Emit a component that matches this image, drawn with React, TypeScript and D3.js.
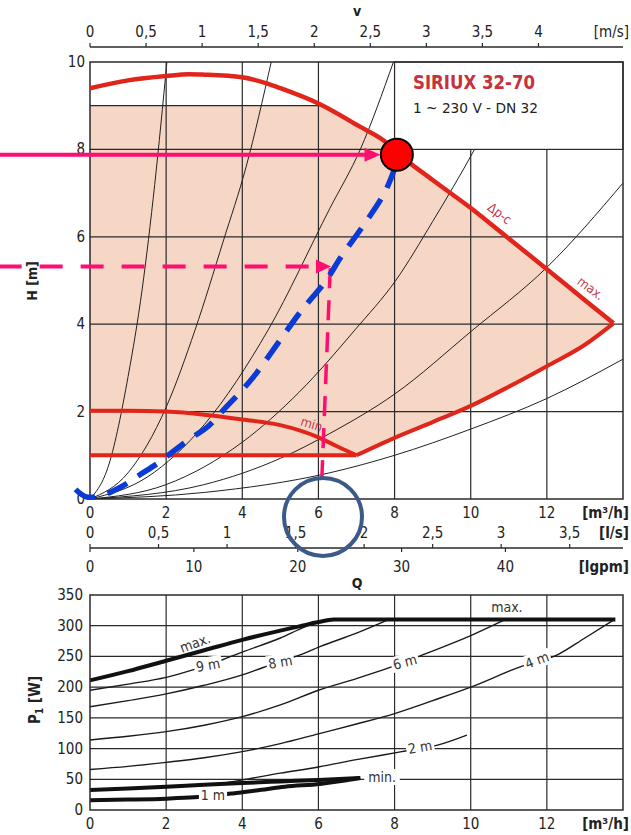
import React from 'react';
import * as d3 from 'd3';

// ---------- axis ticks ----------
const qTicks = [0, 2, 4, 6, 8, 10, 12];
const hTicks = [0, 2, 4, 6, 8, 10];
const vTicks = [0, 0.5, 1, 1.5, 2, 2.5, 3, 3.5, 4];
const lsTicks = [0, 0.5, 1, 1.5, 2, 2.5, 3, 3.5];
const lgpmTicks = [0, 10, 20, 30, 40];
const pTicks = [0, 50, 100, 150, 200, 250, 300, 350];
const hGrid = [2, 4, 6, 8];
const qGridFull = [2, 4, 6, 8];
const qGridLow = [10, 12];
const pGrid = [50, 100, 150, 200, 250, 300];
const qGridP = [2, 4, 6, 8, 10, 12];

// unit conversions (m3/h per unit)
const M3H_PER_MS = 2.945;
const M3H_PER_LS = 3.6;
const M3H_PER_LGPM = 0.2728;

// ---------- H(Q) chart data ----------
const hMaxCurve = [[0, 9.4], [1, 9.58], [2, 9.68], [2.6, 9.72], [3, 9.71], [4, 9.65], [4.64, 9.51], [5, 9.4], [6, 9.05], [7.09, 8.52], [7.75, 8.18], [8.06, 7.93], [9, 7.3], [10, 6.66], [11, 5.96], [12, 5.26], [13, 4.55], [13.75, 4.02]];
const hLowerCurve = [[7.0, 1.0], [8, 1.4], [9, 1.76], [10, 2.13], [11, 2.57], [12, 3.04], [13, 3.53], [13.75, 4.02]];
const hMinCurve = [[0, 2.02], [1, 2.02], [2, 2.0], [3, 1.93], [4, 1.82], [5, 1.69], [6, 1.41], [6.5, 1.2], [7.0, 1.0]];
const hBaseLine = [[0, 1.0], [7.0, 1.0]];
const shadeTopH = 9;

const systemCurves = [
  [[0, 0], [0.5, 0.8], [1, 2.8], [1.37, 4.8], [1.7, 7.2], [2.02, 10]],
  [[0, 0], [1, 0.6], [2, 2.1], [2.76, 3.87], [3.5, 5.9], [4.1, 7.6], [4.76, 10]],
  [[0, 0], [1.5, 0.5], [3, 1.7], [4.68, 3.87], [6.3, 6.65], [7.1, 8.0], [7.97, 10]],
  [[0, 0], [2, 0.33], [4, 1.3], [5.5, 2.45], [6.96, 3.87], [8.03, 5.0], [9, 6.35], [10.1, 8.0], [11, 9.5]],
  [[0, 0], [3, 0.33], [5, 0.93], [6.3, 1.5], [8, 2.4], [10.03, 3.85], [12, 5.3], [14, 7.23]],
  [[0, 0], [3, 0.15], [6.3, 0.6], [8, 1.0], [10, 1.6], [12, 2.3], [14, 3.2]],
];

// annotations (data units)
const dutyPoint = [8.06, 7.88];
const bluePath = [[-0.38, 0.22], [-0.1, 0.05], [0.3, 0.08], [0.8, 0.27], [1.3, 0.55], [1.8, 0.83], [2.2, 1.1], [2.7, 1.42], [3.1, 1.66], [3.55, 2.08], [3.9, 2.4], [4.3, 2.8], [4.9, 3.52], [5.5, 4.25], [6.2, 5.0], [6.6, 5.55], [7.15, 6.22], [7.75, 7.03], [8.06, 7.7]];
const pinkSolid = [[-2.4, 7.88], [7.63, 7.88]];
const pinkDashedH = [[-2.4, 5.32], [6.33, 5.32]];
const pinkDashedV = [[6.31, 5.28], [6.09, 0.48]];
const blueRing = [6.12, -0.41];

// ---------- P1(Q) chart data ----------
const pMax = [[0, 211], [1, 226], [2, 243], [3, 260], [4, 277], [5, 292], [5.5, 299], [6, 306], [6.4, 310], [13.8, 310]];
const p9m = [[0, 195], [1, 205], [2, 216], [2.7, 228], [3.5, 245], [4, 257], [5, 280], [5.65, 298], [6.2, 309]];
const p8m = [[0, 168], [1, 178], [2, 189], [3, 203], [4, 220], [4.55, 232], [5.5, 252], [6.04, 266], [7, 288], [7.84, 310]];
const p6m = [[0, 114], [1, 120], [2, 127.5], [3, 138], [4, 152], [5, 171], [6, 195], [7, 214], [7.92, 233], [8.84, 255], [10, 284], [10.9, 310]];
const p4m = [[0, 66], [1, 71], [2, 77.6], [3, 85], [4, 95], [5, 108], [6, 124], [7, 140], [8, 157], [9, 178], [10, 200], [11.3, 233], [12.26, 252], [13, 280], [13.75, 309]];
const p2m = [[0, 33], [1, 35], [2, 38], [3, 41.5], [3.5, 44], [4, 49], [5, 60], [6, 70], [7, 82], [8.19, 95], [9.15, 106], [9.9, 122]];
const pMin = [[0, 32.6], [1, 35], [2, 38], [3, 41], [4, 44], [5, 46.5], [6, 49], [7.1, 52]];
const p1m = [[0, 16], [1, 17], [2, 18.5], [2.74, 20.6], [3.75, 27], [4.5, 33], [5.12, 38], [6.04, 42.5], [6.6, 47], [7.1, 52]];

const pLabels = [
  { t: 'max.', q: 2.76, p: 272, rot: -20, bg: false },
  { t: '9 m', q: 3.1, p: 236, rot: -10, bg: true },
  { t: '8 m', q: 5.0, p: 241, rot: -10, bg: true },
  { t: '6 m', q: 8.27, p: 241, rot: -15, bg: true },
  { t: '4 m', q: 11.74, p: 244, rot: -20, bg: true },
  { t: '2 m', q: 8.67, p: 102.6, rot: -10, bg: true },
  { t: '1 m', q: 3.23, p: 24.4, rot: 0, bg: true },
  { t: 'min.', q: 7.67, p: 53.7, rot: 0, bg: true },
  { t: 'max.', q: 10.95, p: 330, rot: 0, bg: false },
];

const FONT = "'Liberation Sans Narrow','DejaVu Sans Condensed','Liberation Sans',Arial,sans-serif";
const RED = '#e1251b';
const PINK = '#fe0f6f';
const GRID = '#2a2a2a';
const fmt = (v: number) => String(v).replace('.', ',');

export default function App() {
  const x = d3.scaleLinear().domain([0, 14]).range([90, 623]);
  const yH = d3.scaleLinear().domain([0, 10]).range([499, 62]);
  const yP = d3.scaleLinear().domain([0, 350]).range([810, 595]);
  const xV = d3.scaleLinear().domain([0, 14 / M3H_PER_MS]).range([90, 623]);
  const xLs = d3.scaleLinear().domain([0, 14 / M3H_PER_LS]).range([90, 623]);
  const xG = d3.scaleLinear().domain([0, 14 / M3H_PER_LGPM]).range([90, 623]);

  const linH = d3.line<number[]>().x(d => x(d[0])).y(d => yH(d[1]));
  const smH = d3.line<number[]>().x(d => x(d[0])).y(d => yH(d[1])).curve(d3.curveMonotoneX);
  const smP = d3.line<number[]>().x(d => x(d[0])).y(d => yP(d[1])).curve(d3.curveMonotoneX);
  const blueLine = d3.line<number[]>().x(d => x(d[0])).y(d => yH(d[1])).curve(d3.curveCatmullRom);

  // intersection of max curve with the shade top
  let qCross = 6;
  for (let i = 0; i < hMaxCurve.length - 1; i++) {
    const a = hMaxCurve[i], b = hMaxCurve[i + 1];
    if (a[1] >= shadeTopH && b[1] < shadeTopH) {
      qCross = a[0] + (b[0] - a[0]) * (a[1] - shadeTopH) / (a[1] - b[1]);
      break;
    }
  }
  const fillPts = [
    [0, hBaseLine[0][1]], [0, shadeTopH], [qCross, shadeTopH],
    ...hMaxCurve.filter(p => p[0] > qCross),
    ...hLowerCurve.slice().reverse(),
  ];
  const fillPath = linH(fillPts) + 'Z';

  const arrowHead = (tx: number, ty: number, len: number, hw: number) =>
    `M${tx},${ty}L${tx - len},${ty - hw}L${tx - len},${ty + hw}Z`;

  const sx = x(pinkSolid[1][0]), sy = yH(pinkSolid[1][1]);
  const dx = x(pinkDashedH[1][0]), dy = yH(pinkDashedH[1][1]);

  return (
    <svg width={631} height={835} style={{ position: 'absolute', left: 0, top: 0, background: '#fff' }} fontFamily={FONT}>
      <defs>
        <clipPath id="plotH"><rect x={90} y={62} width={533} height={437} /></clipPath>
      </defs>

      {/* ===== top axis v ===== */}
      <text x={357} y={16} textAnchor="middle" fontSize={14} fontWeight="bold" fill="#222">v</text>
      <line x1={90} x2={623} y1={47} y2={47} stroke={GRID} strokeWidth={1.3} />
      {vTicks.map(v => (
        <g key={'v' + v}>
          <line x1={xV(v)} x2={xV(v)} y1={47} y2={43} stroke={GRID} strokeWidth={1.2} />
          <text x={xV(v)} y={37} textAnchor="middle" fontSize={15} fill="#222">{fmt(v)}</text>
        </g>
      ))}
      <text x={629} y={37} textAnchor="end" fontSize={15} fill="#222">[m/s]</text>

      {/* ===== H(Q) plot ===== */}
      <path d={fillPath} fill="#f6d6c5" stroke="none" />
      {hGrid.map(h => <line key={'hg' + h} x1={90} x2={623} y1={yH(h)} y2={yH(h)} stroke={GRID} strokeWidth={1.2} />)}
      <line x1={90} x2={x(qCross)} y1={yH(shadeTopH)} y2={yH(shadeTopH)} stroke={GRID} strokeWidth={1.2} />
      {qGridFull.map(q => <line key={'qg' + q} x1={x(q)} x2={x(q)} y1={yH(0)} y2={yH(10)} stroke={GRID} strokeWidth={1.2} />)}
      {qGridLow.map(q => <line key={'ql' + q} x1={x(q)} x2={x(q)} y1={yH(0)} y2={yH(8)} stroke={GRID} strokeWidth={1.2} />)}
      <g clipPath="url(#plotH)">
        {systemCurves.map((c, i) => <path key={'sc' + i} d={smH(c) || ''} fill="none" stroke="#222" strokeWidth={1} />)}
      </g>
      <rect x={x(8)} y={yH(10)} width={x(14) - x(8)} height={yH(8) - yH(10)} fill="#fff" stroke={GRID} strokeWidth={1.2} />
      <text x={413} y={89} fontSize={19} fontWeight="bold" fill="#c8313b" textLength={122} lengthAdjust="spacingAndGlyphs">SIRIUX 32-70</text>
      <text x={413} y={113} fontSize={14} fill="#222" textLength={125} lengthAdjust="spacingAndGlyphs">1 ~ 230 V - DN 32</text>
      <rect x={90} y={62} width={533} height={437} fill="none" stroke={GRID} strokeWidth={1.5} />

      <path d={smH(hMaxCurve) || ''} fill="none" stroke={RED} strokeWidth={4.5} strokeLinejoin="round" />
      <path d={smH(hLowerCurve) || ''} fill="none" stroke={RED} strokeWidth={4} strokeLinejoin="round" />
      <path d={smH(hMinCurve) || ''} fill="none" stroke={RED} strokeWidth={4} />
      <path d={linH(hBaseLine) || ''} fill="none" stroke={RED} strokeWidth={4} />
      <text transform={`translate(497,217) rotate(37)`} textAnchor="middle" fontSize={13} fill="#c23b4a">Δp-c</text>
      <text transform={`translate(588,292) rotate(37)`} textAnchor="middle" fontSize={13} fill="#c23b4a">max.</text>
      <text transform={`translate(312,429) rotate(17)`} textAnchor="middle" fontSize={13} fill="#c23b4a">min.</text>

      {/* left axis */}
      {hTicks.map(h => <text key={'ht' + h} x={85} y={yH(h) + 5} textAnchor="end" fontSize={15} fill="#222">{h}</text>)}
      <text transform="translate(37,281) rotate(-90)" textAnchor="middle" fontSize={14} fontWeight="bold" fill="#222">H [m]</text>

      {/* bottom axes */}
      {qTicks.map(q => <text key={'qt' + q} x={x(q)} y={518} textAnchor="middle" fontSize={15} fill="#222">{q}</text>)}
      <text x={629} y={518} textAnchor="end" fontSize={15} fontWeight="bold" fill="#222">[m³/h]</text>
      {lsTicks.map(v => <text key={'ls' + v} x={xLs(v)} y={538} textAnchor="middle" fontSize={15} fill="#222">{fmt(v)}</text>)}
      <text x={629} y={538} textAnchor="end" fontSize={15} fontWeight="bold" fill="#222">[l/s]</text>
      <line x1={90} x2={623} y1={548} y2={548} stroke={GRID} strokeWidth={1.3} />
      {lsTicks.map(v => <line key={'lst' + v} x1={xLs(v)} x2={xLs(v)} y1={548} y2={544} stroke={GRID} strokeWidth={1.2} />)}
      {lgpmTicks.map(v => <line key={'lgt' + v} x1={xG(v)} x2={xG(v)} y1={548} y2={552} stroke={GRID} strokeWidth={1.2} />)}
      {lgpmTicks.map(v => <text key={'lg' + v} x={xG(v)} y={572} textAnchor="middle" fontSize={15} fill="#222">{v}</text>)}
      <text x={629} y={572} textAnchor="end" fontSize={15} fontWeight="bold" fill="#222">[lgpm]</text>
      <text x={357} y={588} textAnchor="middle" fontSize={14} fontWeight="bold" fill="#222">Q</text>

      {/* annotations */}
      <path d={linH([pinkSolid[0], [pinkSolid[1][0] - 14 / 38.07, pinkSolid[1][1]]]) || ''} stroke={PINK} strokeWidth={4} fill="none" />
      <path d={arrowHead(sx, sy, 16, 7)} fill={PINK} />
      <path d={linH([pinkDashedH[0], [pinkDashedH[1][0] - 14 / 38.07, pinkDashedH[1][1]]]) || ''} stroke={PINK} strokeWidth={4} fill="none" strokeDasharray="23 18" />
      <path d={arrowHead(dx, dy, 15, 7)} fill={PINK} />
      <path d={linH(pinkDashedV) || ''} stroke={PINK} strokeWidth={3.5} fill="none" strokeDasharray="20 12" />
      <path d={blueLine(bluePath) || ''} stroke="#0b3bd6" strokeWidth={5.5} fill="none" strokeDasharray="22 13" />
      <circle cx={x(dutyPoint[0])} cy={yH(dutyPoint[1])} r={16} fill="#ff0000" stroke="#000" strokeWidth={2} />
      <circle cx={x(blueRing[0])} cy={yH(blueRing[1])} r={39} fill="none" stroke="#3c5a88" strokeWidth={4} />

      {/* ===== P1(Q) plot ===== */}
      {pGrid.map(p => <line key={'pg' + p} x1={90} x2={623} y1={yP(p)} y2={yP(p)} stroke={GRID} strokeWidth={1.2} />)}
      {qGridP.map(q => <line key={'pq' + q} x1={x(q)} x2={x(q)} y1={yP(0)} y2={yP(350)} stroke={GRID} strokeWidth={1.2} />)}
      {[p9m, p8m, p6m, p4m, p2m].map((c, i) => <path key={'pc' + i} d={smP(c) || ''} fill="none" stroke="#1a1a1a" strokeWidth={1.4} />)}
      <path d={smP(pMax) || ''} fill="none" stroke="#111" strokeWidth={4} />
      <path d={smP(pMin) || ''} fill="none" stroke="#111" strokeWidth={4} />
      <path d={smP(p1m) || ''} fill="none" stroke="#111" strokeWidth={4} />
      {pLabels.map((l, i) => {
        const w = l.t.length * 7.4 + 6;
        return (
          <g key={'pl' + i} transform={`translate(${x(l.q)},${yP(l.p)}) rotate(${l.rot})`}>
            {l.bg && <rect x={-w / 2} y={-8} width={w} height={16} fill="#fff" />}
            <text x={0} y={5} textAnchor="middle" fontSize={14} fill="#333">{l.t}</text>
          </g>
        );
      })}
      <rect x={90} y={595} width={533} height={215} fill="none" stroke={GRID} strokeWidth={1.5} />
      {pTicks.map(p => <text key={'pt' + p} x={83} y={yP(p) + 5} textAnchor="end" fontSize={15} fill="#222">{p}</text>)}
      {qTicks.map(q => <text key={'pqt' + q} x={x(q)} y={829} textAnchor="middle" fontSize={15} fill="#222">{q}</text>)}
      <text x={629} y={829} textAnchor="end" fontSize={15} fontWeight="bold" fill="#222">[m³/h]</text>
      <text transform="translate(40,700) rotate(-90)" textAnchor="middle" fontSize={15} fontWeight="bold" fill="#222">
        P<tspan fontSize={10} dy={3}>1</tspan><tspan dy={-3}> [W]</tspan>
      </text>
    </svg>
  );
}
